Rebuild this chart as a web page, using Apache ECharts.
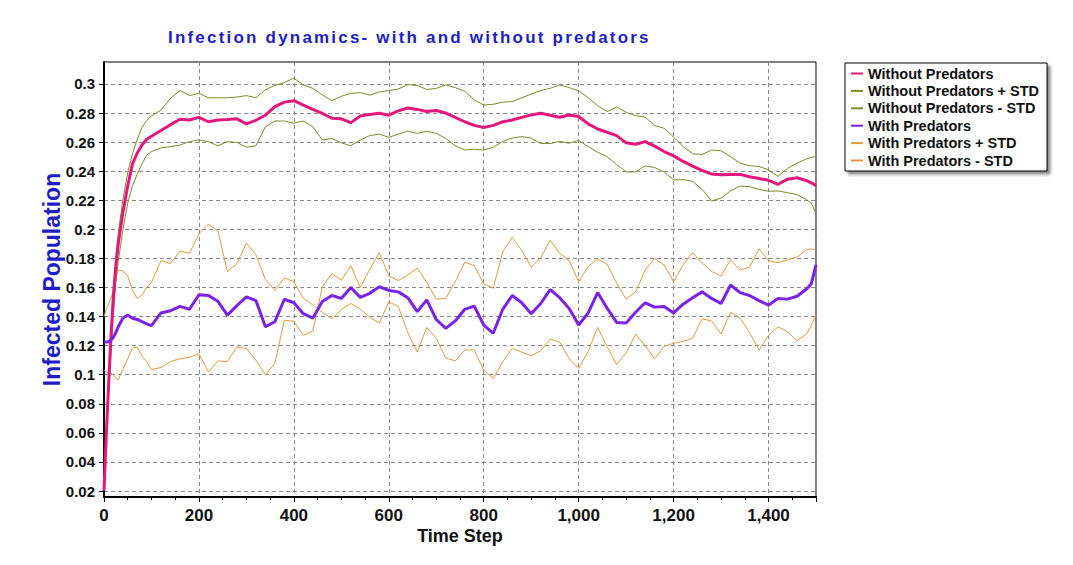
<!DOCTYPE html>
<html>
<head>
<meta charset="utf-8">
<script src="https://cdn.jsdelivr.net/npm/echarts@6/dist/echarts.min.js"></script>
<style>
  html, body { margin: 0; padding: 0; background: #fff; }
  #chart { width: 1073px; height: 565px; }
</style>
</head>
<body>
<div id="chart"></div>
<script>
// Sampled time steps (denser during the initial rise)
const steps = [
  0, 5, 10, 15, 20, 25, 30, 40, 50, 60, 70, 80, 90, 100,
  120, 140, 160, 180, 200, 220, 240, 260, 280, 300,
  320, 340, 360, 380, 400, 420, 440, 460, 480, 500,
  520, 540, 560, 580, 600, 620, 640, 660, 680, 700,
  720, 740, 760, 780, 800, 820, 840, 860, 880, 900,
  920, 940, 960, 980, 1000, 1020, 1040, 1060, 1080, 1100,
  1120, 1140, 1160, 1180, 1200, 1220, 1240, 1260, 1280, 1300,
  1320, 1340, 1360, 1380, 1400, 1420, 1440, 1460, 1480,
  1490, 1500
];

const withoutPred = [
  0.020, 0.060, 0.095, 0.128, 0.155, 0.175, 0.190, 0.212, 0.230, 0.245, 0.2525, 0.258, 0.262, 0.264,
  0.268, 0.272, 0.2757, 0.2752, 0.277, 0.274, 0.2752, 0.2755, 0.276, 0.2725,
  0.275, 0.2785, 0.2844, 0.2875, 0.2885, 0.2855, 0.2825, 0.2798, 0.2764, 0.276,
  0.2734, 0.278, 0.279, 0.2798, 0.2785, 0.2815, 0.2835, 0.2825, 0.281, 0.2817,
  0.280, 0.277, 0.274, 0.2715, 0.270, 0.2715, 0.274, 0.2752, 0.277, 0.2787,
  0.2798, 0.2785, 0.2771, 0.2787, 0.2776, 0.2725, 0.269, 0.2668, 0.2645, 0.2595,
  0.2585, 0.2603, 0.2572, 0.2535, 0.2505, 0.2467, 0.2435, 0.2405, 0.238, 0.2375,
  0.2378, 0.2378, 0.2362, 0.235, 0.2337, 0.231, 0.2345, 0.2355, 0.2335,
  0.232, 0.2301
];

const withoutPredPlus = [
  0.020, 0.063, 0.099, 0.133, 0.161, 0.181, 0.197, 0.221, 0.239, 0.252, 0.262, 0.270, 0.275, 0.278,
  0.282, 0.290, 0.2955, 0.292, 0.2936, 0.2905, 0.2905, 0.2905, 0.291, 0.292,
  0.2905, 0.296, 0.299, 0.301, 0.304, 0.2993, 0.297, 0.2925, 0.2885, 0.2915,
  0.2935, 0.294, 0.2924, 0.2945, 0.2955, 0.2965, 0.2995, 0.299, 0.2962, 0.297,
  0.2993, 0.2975, 0.295, 0.289, 0.2855, 0.286, 0.2875, 0.2878, 0.2905, 0.293,
  0.2955, 0.297, 0.2993, 0.2975, 0.2952, 0.2905, 0.285, 0.281, 0.2842, 0.2805,
  0.2782, 0.2772, 0.2715, 0.2695, 0.2635, 0.257, 0.252, 0.2515, 0.2545, 0.254,
  0.250, 0.2455, 0.2438, 0.2432, 0.241, 0.2365, 0.242, 0.2455, 0.2485,
  0.2495, 0.250
];

const withoutPredMinus = [
  0.020, 0.055, 0.088, 0.118, 0.143, 0.163, 0.178, 0.200, 0.218, 0.230, 0.238, 0.245, 0.251, 0.2535,
  0.256, 0.2569, 0.258, 0.2603, 0.2615, 0.2603, 0.2575, 0.2603, 0.2598, 0.2565,
  0.2575, 0.2705, 0.2745, 0.2745, 0.273, 0.2745, 0.2705, 0.2615, 0.2625, 0.2595,
  0.2575, 0.2615, 0.2645, 0.2655, 0.2633, 0.2655, 0.2675, 0.266, 0.2675, 0.266,
  0.2625, 0.2575, 0.2546, 0.2551, 0.2545, 0.2565, 0.2605, 0.2628, 0.2638, 0.2628,
  0.259, 0.259, 0.2605, 0.2592, 0.2612, 0.257, 0.253, 0.250, 0.2445, 0.2395,
  0.2395, 0.2436, 0.2425, 0.2395, 0.234, 0.2342, 0.233, 0.2275, 0.2195, 0.2215,
  0.2265, 0.2298, 0.2294, 0.2275, 0.2262, 0.2264, 0.2252, 0.2238, 0.2205,
  0.218, 0.211
];

const withPred = [
  0.1227, 0.1225, 0.1227, 0.124, 0.126, 0.129, 0.133, 0.139, 0.141, 0.1388, 0.138, 0.1365, 0.135, 0.1338,
  0.1425, 0.144, 0.147, 0.145, 0.155, 0.1545, 0.1505, 0.141, 0.1475, 0.1535,
  0.151, 0.133, 0.1365, 0.1519, 0.1495, 0.142, 0.139, 0.1503, 0.1545, 0.1525,
  0.160, 0.1532, 0.156, 0.1605, 0.158, 0.157, 0.153, 0.1434, 0.1515, 0.138,
  0.1319, 0.137, 0.145, 0.1472, 0.1342, 0.1285, 0.145, 0.1545, 0.1495, 0.142,
  0.149, 0.1585, 0.153, 0.1455, 0.1342, 0.1425, 0.1565, 0.1457, 0.136, 0.1355,
  0.143, 0.1495, 0.1465, 0.147, 0.1425, 0.1485, 0.153, 0.157, 0.1525, 0.149,
  0.1617, 0.1565, 0.1545, 0.151, 0.1478, 0.1525, 0.152, 0.154, 0.159,
  0.1625, 0.1755
];

const withPredPlus = [
  0.140, 0.145, 0.149, 0.153, 0.158, 0.167, 0.172, 0.1715, 0.168, 0.158, 0.1525, 0.155, 0.160, 0.1635,
  0.1785, 0.1765, 0.185, 0.1835, 0.197, 0.2035, 0.199, 0.171, 0.1765, 0.1905,
  0.1825, 0.1655, 0.158, 0.1665, 0.164, 0.1525, 0.148, 0.143, 0.1385, 0.1448,
  0.149, 0.1452, 0.1395, 0.1355, 0.150, 0.147, 0.129, 0.1155, 0.1325, 0.125,
  0.1115, 0.1095, 0.117, 0.117, 0.1032, 0.0975, 0.109, 0.1182, 0.1155, 0.113,
  0.1165, 0.1245, 0.1225, 0.111, 0.1044, 0.116, 0.1325, 0.1193, 0.107, 0.115,
  0.128, 0.120, 0.111, 0.1195, 0.1216, 0.123, 0.125, 0.1385, 0.137, 0.128,
  0.143, 0.139, 0.129, 0.117, 0.127, 0.133, 0.1295, 0.1235, 0.128,
  0.134, 0.141
];

const withPredMinus = [
  0.103, 0.102, 0.1015, 0.101, 0.0995, 0.0975, 0.0965, 0.104, 0.111, 0.1185, 0.119, 0.113, 0.109, 0.1035,
  0.105, 0.109, 0.111, 0.112, 0.1145, 0.102, 0.1095, 0.109, 0.119, 0.118,
  0.110, 0.100, 0.108, 0.1375, 0.1368, 0.127, 0.130, 0.1605, 0.1695, 0.165,
  0.175, 0.160, 0.1725, 0.184, 0.168, 0.1648, 0.1685, 0.1735, 0.1635, 0.152,
  0.1525, 0.164, 0.1775, 0.175, 0.1625, 0.1595, 0.1845, 0.1945, 0.1855, 0.174,
  0.1805, 0.1925, 0.1835, 0.1785, 0.164, 0.1745, 0.1795, 0.176, 0.163, 0.152,
  0.157, 0.172, 0.180, 0.1755, 0.164, 0.1755, 0.184, 0.177, 0.171, 0.168,
  0.179, 0.172, 0.174, 0.1865, 0.1785, 0.177, 0.179, 0.181, 0.186,
  0.1865, 0.186
];

// Axis tick values
const yTicks = [0.02, 0.04, 0.06, 0.08, 0.1, 0.12, 0.14, 0.16, 0.18, 0.2, 0.22, 0.24, 0.26, 0.28, 0.3];
const xInterval = 200;

const titleText = 'Infection dynamics- with and without predators';
const FONT = '"Liberation Sans", Arial, sans-serif';
const pairs = vals => steps.map((t, i) => [t, vals[i]]);

const chart = echarts.init(document.getElementById('chart'), null, { renderer: 'svg' });

const thin = (name, vals, color) => ({
  name, type: 'line', data: pairs(vals), symbol: 'none', z: 2,
  lineStyle: { width: 1, color }, itemStyle: { color }
});
const thick = (name, vals, color) => ({
  name, type: 'line', data: pairs(vals), symbol: 'none', z: 3,
  lineStyle: { width: 3, color }, itemStyle: { color }
});

const OLIVE = '#7d8a2e';
const ORANGE = '#df9a42';

chart.setOption({
  animation: false,
  backgroundColor: '#fff',
  title: {
    text: titleText,
    left: 168, top: 29, padding: 0,
    textStyle: { fontFamily: FONT, fontSize: 17, fontWeight: 'bold', color: '#1e1ec4' }
  },
  grid: {
    left: 104, right: 257, top: 62, bottom: 68,
    show: true, borderColor: '#000', borderWidth: 1
  },
  legend: {
    orient: 'vertical', left: 845, top: 63,
    itemWidth: 12, itemHeight: 14, itemGap: 2.4,
    padding: [3, 8, 3, 5],
    backgroundColor: '#fff', borderColor: '#000', borderWidth: 1,
    shadowColor: 'rgba(0,0,0,0.45)', shadowBlur: 3, shadowOffsetX: 3, shadowOffsetY: 3,
    // line-only key: the marker dot is made fully transparent
    itemStyle: { color: 'rgba(0,0,0,0)', borderWidth: 0, opacity: 0 },
    textStyle: { fontFamily: FONT, fontSize: 14.5, fontWeight: 'bold', color: '#111' }
  },
  xAxis: {
    type: 'value', min: 0, max: 1500, interval: xInterval,
    axisLine: { lineStyle: { color: '#000', width: 2 } },
    axisTick: { length: 5, lineStyle: { color: '#000' } },
    minorTick: { show: true, splitNumber: 4, length: 3, lineStyle: { color: '#000' } },
    axisLabel: {
      showMaxLabel: false, margin: 10,
      formatter: v => v.toLocaleString('en-US'),
      fontFamily: FONT, fontSize: 17, fontWeight: 'bold', color: '#111'
    },
    splitLine: { show: true, lineStyle: { color: '#8a8a8a', type: [4, 3] } },
    name: 'Time Step', nameLocation: 'middle', nameGap: 30, nameMoveOverlap: false,
    nameTextStyle: { fontFamily: FONT, fontSize: 18, fontWeight: 'bold', color: '#111' }
  },
  yAxis: {
    type: 'value', min: 0.0159, max: 0.3151,
    axisLine: { show: true, lineStyle: { color: '#000', width: 2 } },
    axisTick: { show: true, customValues: yTicks, length: 5, lineStyle: { color: '#000' } },
    axisLabel: {
      customValues: yTicks, margin: 9,
      formatter: v => String(+(+v).toFixed(2)),
      fontFamily: FONT, fontSize: 15, fontWeight: 'bold', color: '#111'
    },
    splitLine: { show: true, lineStyle: { color: '#8a8a8a', type: [4, 3] } },
    name: 'Infected Population', nameLocation: 'middle', nameRotate: 90, nameGap: 41,
    nameMoveOverlap: false,
    nameTextStyle: { fontFamily: FONT, fontSize: 23, fontWeight: 'bold', color: '#1e1ec4' }
  },
  series: [
    thick('Without Predators', withoutPred, '#e2187c'),
    thin('Without Predators + STD', withoutPredPlus, OLIVE),
    thin('Without Predators - STD', withoutPredMinus, OLIVE),
    thick('With Predators', withPred, '#7a22e6'),
    thin('With Predators + STD', withPredPlus, ORANGE),
    thin('With Predators - STD', withPredMinus, ORANGE)
  ]
});

// Spread the title letters out a little
function spaceTitle() {
  document.querySelectorAll('#chart svg text').forEach(el => {
    if (el.textContent === titleText) el.setAttribute('letter-spacing', '2.2');
  });
}
chart.on('finished', spaceTitle);
setTimeout(spaceTitle, 0);
spaceTitle();
</script>
</body>
</html>
